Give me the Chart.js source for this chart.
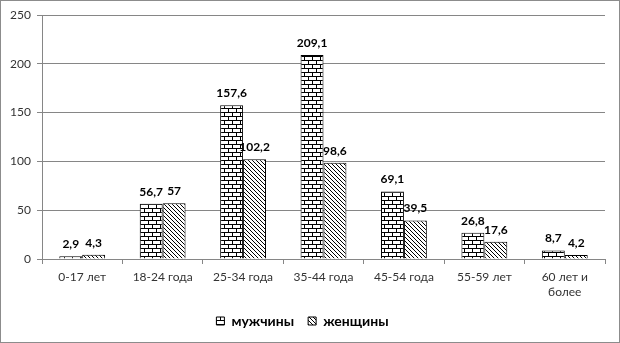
<!DOCTYPE html>
<html>
<head>
    <meta charset="utf-8">
    <title>Возраст</title>
    <style>
        body { margin: 0; background: #fff; }
    </style>
</head>
<body>
    <canvas id="barChart" width="620" height="343"></canvas>
    <script src="https://cdn.jsdelivr.net/npm/chart.js"></script>
    <script>
        // data
        var categories = ['0-17 лет', '18-24 года', '25-34 года', '35-44 года', '45-54 года', '55-59 лет', ['60 лет и', 'более']];
        var seriesNames = ['мужчины', 'женщины'];
        var menValues = [2.9, 56.7, 157.6, 209.1, 69.1, 26.8, 8.7];
        var womenValues = [4.3, 57, 102.2, 98.6, 39.5, 17.6, 4.2];
        var yTicks = [0, 50, 100, 150, 200, 250];

        // brick pattern for men
        function brickPattern() {
            var c = document.createElement('canvas');
            c.width = 8; c.height = 8;
            var g = c.getContext('2d');
            g.fillStyle = '#fff';
            g.fillRect(0, 0, 8, 8);
            g.fillStyle = '#000';
            g.fillRect(0, 0, 8, 1);
            g.fillRect(0, 4, 8, 1);
            g.fillRect(0, 0, 1, 4);
            g.fillRect(4, 4, 1, 4);
            return g.createPattern(c, 'repeat');
        }

        // diagonal hatch for women
        function hatchPattern() {
            var c = document.createElement('canvas');
            c.width = 4; c.height = 4;
            var g = c.getContext('2d');
            g.fillStyle = '#fff';
            g.fillRect(0, 0, 4, 4);
            g.fillStyle = '#000';
            for (var i = 0; i < 4; i++) g.fillRect(i, i, 1, 1);
            return g.createPattern(c, 'repeat');
        }

        function fmt(v) {
            return String(v).replace('.', ',');
        }

        var valueLabels = {
            id: 'valueLabels',
            afterDatasetsDraw: function (chart) {
                var ctx = chart.ctx;
                ctx.save();
                ctx.font = 'bold 12px Lato, "Noto Sans", sans-serif';
                ctx.fillStyle = '#000';
                ctx.textAlign = 'center';
                ctx.textBaseline = 'middle';
                chart.data.datasets.forEach(function (ds, di) {
                    chart.getDatasetMeta(di).data.forEach(function (bar, i) {
                        ctx.fillText(fmt(ds.data[i]), bar.x, bar.y - 12);
                    });
                });
                ctx.restore();
            }
        };

        var frame = {
            id: 'frame',
            afterDraw: function (chart) {
                var ctx = chart.ctx;
                ctx.save();
                ctx.strokeStyle = '#8c8c8c';
                ctx.lineWidth = 1;
                ctx.strokeRect(0.5, 0.5, chart.width - 1, chart.height - 1);
                ctx.restore();
            }
        };

        Chart.defaults.font.family = 'Lato, "Noto Sans", sans-serif';
        Chart.defaults.font.size = 12;
        Chart.defaults.color = '#333';

        var barChart = new Chart(document.getElementById('barChart').getContext('2d'), {
            type: 'bar',
            data: {
                labels: categories,
                datasets: [{
                    label: seriesNames[0],
                    data: menValues,
                    backgroundColor: brickPattern(),
                    borderColor: '#000',
                    borderWidth: 1
                }, {
                    label: seriesNames[1],
                    data: womenValues,
                    backgroundColor: hatchPattern(),
                    borderColor: '#000',
                    borderWidth: 1
                }]
            },
            options: {
                responsive: false,
                animation: false,
                layout: { padding: { left: 0, right: 15, top: 15, bottom: 5 } },
                categoryPercentage: 0.57,
                barPercentage: 1,
                plugins: {
                    tooltip: { enabled: false },
                    legend: {
                        position: 'bottom',
                        labels: {
                            boxWidth: 8,
                            boxHeight: 8,
                            padding: 14,
                            color: '#000',
                            font: { weight: 'bold', size: 14 }
                        }
                    }
                },
                scales: {
                    x: {
                        grid: { drawOnChartArea: false, tickLength: 5, color: '#868686' },
                        border: { color: '#868686' },
                        ticks: { padding: 5, maxRotation: 0, font: { lineHeight: 1.3 } },
                        afterFit: function (s) { s.height = 41; }
                    },
                    y: {
                        min: 0,
                        max: 250,
                        afterBuildTicks: function (s) {
                            s.ticks = yTicks.map(function (v) { return { value: v }; });
                        },
                        grid: { color: '#868686', tickLength: 5 },
                        border: { color: '#868686' },
                        ticks: { padding: 6 },
                        afterFit: function (s) { s.width = 42; }
                    }
                }
            },
            plugins: [valueLabels, frame]
        });
    </script>
</body>
</html>
